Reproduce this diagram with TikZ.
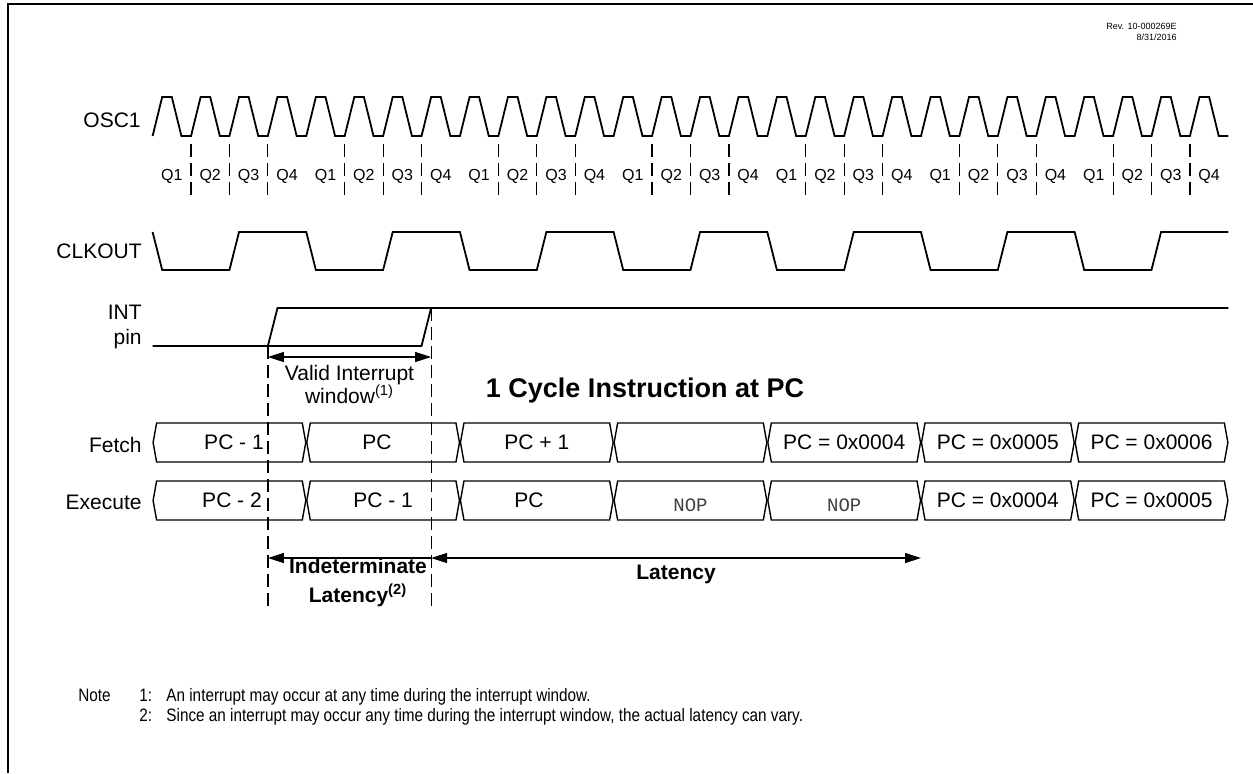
\documentclass[tikz,border=0pt]{standalone}
\usepackage{fontspec}
\setmainfont{Liberation Sans}
\newfontfamily\nopfont{Liberation Mono}
\newfontfamily\notefont[FakeStretch=0.85]{Liberation Sans}
\usetikzlibrary{arrows.meta}

\begin{document}
\begin{tikzpicture}[x=0.5pt,y=-0.5pt,
  >={Triangle[length=8pt,width=5pt]},
  wave/.style={line width=0.9pt},
  bus/.style={line width=0.7pt},
  guide/.style={line width=0.6pt,dash pattern=on 6.5pt off 3pt},
  dim/.style={line width=0.6pt},
  sig/.style={font=\fontsize{10.5}{12.5}\selectfont,anchor=east,inner sep=0pt,align=right},
  qlabel/.style={font=\fontsize{8}{9}\selectfont,inner sep=0pt},
  bustext/.style={font=\fontsize{10.5}{12}\selectfont,inner sep=0pt},
  noptext/.style={font=\nopfont\fontsize{9.5}{11}\selectfont,text=black!75,inner sep=0pt},
  notetext/.style={font=\notefont\fontsize{9}{10}\selectfont,anchor=base west,inner sep=0pt}]
\useasboundingbox (0,0) rectangle (1253,773);
\draw[line width=1pt] (8,773) -- (8,4) -- (1253,4);

\node[font=\fontsize{4.5}{5.5}\selectfont,align=right,anchor=east,inner sep=0pt] (rev) at (1177,32) {Rev. 10-000269E\\8/31/2016};

\node[sig] (osc) at (141,120) {OSC1};
\node[sig] (clk) at (142,251) {CLKOUT};
\node[sig] (int) at (142,327) {INT\\pin};
\node[sig] (fetch) at (142,445) {Fetch};
\node[sig] (exec) at (142,502) {Execute};

\draw[wave] (152.6,136) \foreach \i in {1,...,28} { -- ++(9.605,-39) -- ++(9.605,0) -- ++(9.605,39) -- ++(9.605,0) };
\draw[wave] (152.6,232) \foreach \i in {1,...,7} { -- ++(9.605,38) -- ++(67.23,0) -- ++(9.605,-38) -- ++(67.23,0) };

\foreach \i in {0,...,27} {
  \pgfmathtruncatemacro\n{mod(\i,4)+1}
  \node[qlabel] (q\i) at ({171.8+38.42*\i},176) {Q\n};
}
\foreach \i in {1,...,27} {
  \pgfmathtruncatemacro\m{mod(\i,4)}
  \ifnum\m>0 \draw[guide] ({152.6+38.42*\i},144) -- ({152.6+38.42*\i},200); \fi
}

\draw[wave] (152.6,346) -- (421.5,346) -- (431.1,308) -- (1228.4,308);
\draw[wave] (267.9,346) -- (277.5,308) -- (431.1,308);

\coordinate (w1) at (267.9,346);
\coordinate (w1b) at (267.9,608);
\coordinate (w2) at (431.1,308);
\coordinate (w2b) at (431.1,608);
\draw[guide] (w1) -- (w1b);
\draw[guide] (w2) -- (w2b);

\coordinate (va) at (267.9,357);
\coordinate (vb) at (431.1,357);
\draw[dim,<->] (va) -- (vb);
\node[font=\fontsize{10.5}{11.5}\selectfont,align=center,inner sep=0pt] (valid) at (349.5,384) {Valid Interrupt\\window\textsuperscript{(1)}};

\node[font=\bfseries\fontsize{13.5}{16}\selectfont,inner sep=0pt] (title) at (645,391) {1 Cycle Instruction at PC};

\foreach \y in {442.5,500.5} \foreach \k in {0,...,6} {
  \draw[bus] ({153.1+153.68*\k},\y) -- ++(3.5,-19.5) -- ++(145.68,0) -- ++(3.5,19.5) -- ++(-3.5,19.5) -- ++(-145.68,0) -- cycle;
}

\node[bustext] (f1) at (234,442.5) {PC - 1};
\node[bustext] (f2) at (377,442.5) {PC};
\node[bustext] (f3) at (536.8,442.5) {PC + 1};
\node[bustext] (f5) at (844.2,442.5) {PC = 0x0004};
\node[bustext] (f6) at (997.8,442.5) {PC = 0x0005};
\node[bustext] (f7) at (1151.5,442.5) {PC = 0x0006};

\node[bustext] (e1) at (232,500.5) {PC - 2};
\node[bustext] (e2) at (383.1,500.5) {PC - 1};
\node[bustext] (e3) at (529,500.5) {PC};
\node[noptext] (e4) at (690.5,505) {NOP};
\node[noptext] (e5) at (844.2,505) {NOP};
\node[bustext] (e6) at (997.8,500.5) {PC = 0x0004};
\node[bustext] (e7) at (1151.5,500.5) {PC = 0x0005};

\coordinate (la) at (267.9,558);
\coordinate (lb) at (431.1,558);
\coordinate (lc) at (921,558);
\draw[dim,<-] (la) -- (lb);
\draw[dim,<->] (lb) -- (lc);
\node[font=\bfseries\fontsize{10.5}{14.5}\selectfont,align=center,inner sep=0pt] (indet) at (358,583) {Indeterminate\\Latency\textsuperscript{(2)}};
\node[font=\bfseries\fontsize{10.5}{12}\selectfont,inner sep=0pt] (lat) at (676,574) {Latency};

\node[notetext] (note) at (78,701) {Note};
\node[notetext] (n1) at (139,701) {1:};
\node[notetext] (note1) at (166,701) {An interrupt may occur at any time during the interrupt window.};
\node[notetext] (n2) at (139,721) {2:};
\node[notetext] (note2) at (166,721) {Since an interrupt may occur any time during the interrupt window, the actual latency can vary.};
\end{tikzpicture}
\end{document}
